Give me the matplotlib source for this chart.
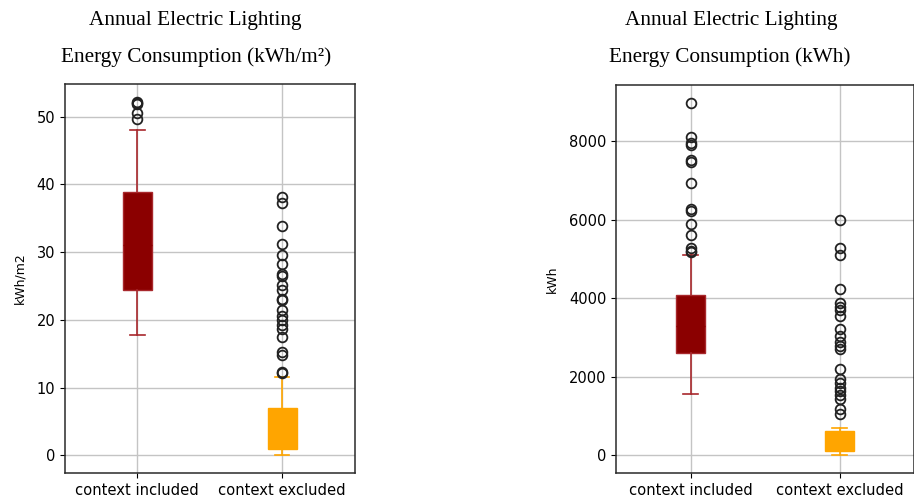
import matplotlib
matplotlib.use("Agg")
import matplotlib.pyplot as plt

categories = ["context included", "context excluded"]

# left panel: kWh/m2 (box summary + outliers)
area_included = dict(whislo=17.7, q1=24.4, med=31.0, q3=38.8, whishi=48.0)
area_included_fliers = [49.6, 50.5, 51.8, 52.0, 52.2]
area_excluded = dict(whislo=0.0, q1=0.9, med=3.5, q3=7.0, whishi=11.6)
area_excluded_fliers = [12.2, 12.3, 14.8, 15.3, 17.5, 18.7, 19.3, 20.0, 20.6, 21.4,
                        22.9, 23.1, 24.4, 25.2, 26.4, 26.7, 28.2, 29.6, 31.2, 33.9,
                        37.3, 38.2]

# right panel: kWh
total_included = dict(whislo=1571, q1=2616, med=3300, q3=4085, whishi=5113)
total_included_fliers = [5181, 5206, 5274, 5614, 5886, 6225, 6268, 6930, 7474, 7516,
                         7898, 7950, 8111, 8985]
total_excluded = dict(whislo=0, q1=100, med=350, q3=620, whishi=688)
total_excluded_fliers = [1045, 1189, 1427, 1529, 1639, 1724, 1851, 1953, 2191, 2701,
                         2786, 2888, 3040, 3210, 3550, 3703, 3788, 3873, 4229, 5104,
                         5274, 5988]

box_colors = ["#8b0000", "#ffa500"]
line_colors = ["#a8282c", "#ffa500"]


def draw_panel(ax, stats, fliers, ylabel):
    data = []
    for s, f, lab in zip(stats, fliers, categories):
        d = dict(s)
        d["fliers"] = f
        d["label"] = lab
        data.append(d)
    for i, d in enumerate(data):
        ax.bxp([d], positions=[i + 1], widths=0.2, patch_artist=True,
               boxprops=dict(facecolor=box_colors[i], edgecolor=line_colors[i], linewidth=1),
               whiskerprops=dict(color=line_colors[i], linewidth=1.2),
               capprops=dict(color=line_colors[i], linewidth=1.2),
               medianprops=dict(color=box_colors[i], linewidth=1),
               flierprops=dict(marker="o", markerfacecolor="none", markeredgecolor="#222222",
                               markersize=7, markeredgewidth=1.3))
    ax.set_xlim(0.5, 2.5)
    ax.set_xticks([1, 2])
    ax.set_xticklabels(categories, fontsize=10.6)
    ax.tick_params(axis="y", labelsize=10.5)
    ax.set_ylabel(ylabel, fontsize=9, labelpad=7)
    ax.grid(True, color="#c4c4c4", linewidth=1)
    ax.set_axisbelow(True)
    for sp in ax.spines.values():
        sp.set_color("#2a2a2a")
        sp.set_linewidth(1.1)
    ax.autoscale(axis="y")
    ax.margins(y=0.05)


fig = plt.figure(figsize=(9.14, 5.0), dpi=100)
ax1 = fig.add_axes([0.071, 0.054, 0.317, 0.778])
ax2 = fig.add_axes([0.674, 0.054, 0.326, 0.776])

draw_panel(ax1, [area_included, area_excluded], [area_included_fliers, area_excluded_fliers], "kWh/m2")
draw_panel(ax2, [total_included, total_excluded], [total_included_fliers, total_excluded_fliers], "kWh")
ax2.set_yticks([0, 2000, 4000, 6000, 8000])

serif = ["Liberation Serif", "DejaVu Serif"]
fig.text(195 / 914, 1 - 20 / 500, "Annual Electric Lighting", ha="center", va="center",
         family=serif, fontsize=15.3)
fig.text(196 / 914, 1 - 57 / 500, "Energy Consumption (kWh/m²)", ha="center", va="center",
         family=serif, fontsize=15.3)
fig.text(731 / 914, 1 - 20 / 500, "Annual Electric Lighting", ha="center", va="center",
         family=serif, fontsize=15.3)
fig.text(730 / 914, 1 - 57 / 500, "Energy Consumption (kWh)", ha="center", va="center",
         family=serif, fontsize=15.3)

fig.savefig("out.png", dpi=100)
